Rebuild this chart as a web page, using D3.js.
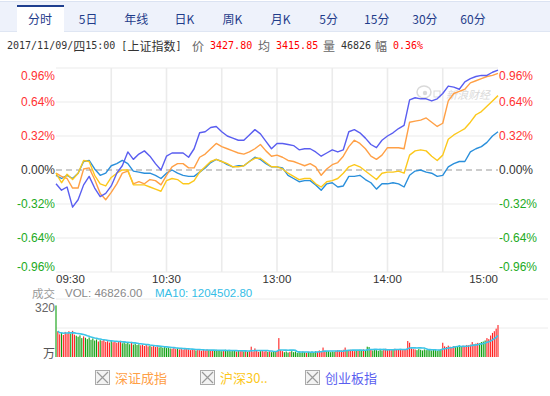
<!DOCTYPE html>
<html>
<head>
<meta charset="utf-8">
<script src="https://cdn.jsdelivr.net/npm/d3@7"></script>
<style>
  body { margin: 0; background: #fff; }
  svg { display: block; font-family: "Liberation Sans", Arial, sans-serif; }
  .cjk { font-family: "Noto Sans CJK SC", sans-serif; }
  .mono { font-family: "DejaVu Sans Mono", monospace; }
</style>
</head>
<body>
<div id="chart"></div>
<script>
//data
const tabLabels = ["分时", "5日", "年线", "日K", "周K", "月K", "5分", "15分", "30分", "60分"];
const pctTicks = [0.96, 0.64, 0.32, 0, -0.32, -0.64, -0.96];
const timeTicks = [0, 60, 120, 180, 240];
const timeLabels = ["09:30", "10:30", "13:00", "14:00", "15:00"];
const gridMinutes = [30, 60, 90, 120, 150, 180, 210];
const legendNames = ["深证成指", "沪深30..", "创业板指"];

// % change, one sample every 3 trading minutes (09:30 .. 15:00)
const shIndex = [
  -0.05, -0.08, -0.05, -0.08, -0.03, 0.08, 0.09, 0.01, -0.05, -0.03,
  0.04, 0.06, 0.09, 0.06, -0.01, -0.02, -0.03, -0.03, -0.05, -0.08,
  -0.03, 0.00, -0.03, -0.05, -0.06, -0.06, -0.02, 0.02, 0.07, 0.10,
  0.08, 0.05, 0.03, 0.04, 0.04, 0.08, 0.12, 0.10, 0.06, 0.03, 0.03,
  0.02, -0.05, -0.08, -0.11, -0.10, -0.10, -0.14, -0.19, -0.13, -0.12,
  -0.16, -0.15, -0.06, -0.06, -0.05, -0.09, -0.12, -0.18, -0.13, -0.13,
  -0.12, -0.13, -0.16, -0.05, -0.01, 0.00, -0.02, -0.03, -0.06, -0.05,
  0.03, 0.06, 0.08, 0.08, 0.17, 0.20, 0.22, 0.26, 0.32, 0.36
];
const szIndex = [
  -0.03, -0.06, -0.08, -0.17, -0.17, 0.01, 0.02, -0.09, -0.22, -0.28,
  -0.21, -0.13, -0.03, -0.01, -0.13, -0.11, -0.13, -0.09, -0.10, -0.14,
  -0.05, 0.03, 0.06, 0.06, 0.02, 0.02, 0.12, 0.15, 0.20, 0.25,
  0.22, 0.20, 0.18, 0.16, 0.15, 0.17, 0.20, 0.24, 0.18, 0.13, 0.14,
  0.12, 0.09, 0.08, 0.06, 0.04, 0.06, 0.03, -0.05, 0.01, 0.05,
  0.07, 0.13, 0.22, 0.28, 0.25, 0.20, 0.13, 0.10, 0.14, 0.21,
  0.21, 0.21, 0.20, 0.45, 0.46, 0.47, 0.49, 0.45, 0.41, 0.44,
  0.65, 0.72, 0.74, 0.76, 0.82, 0.84, 0.86, 0.88, 0.89, 0.91
];
const hs300 = [
  -0.03, -0.12, -0.04, -0.09, -0.03, 0.09, 0.08, -0.05, -0.13, -0.15,
  -0.07, -0.03, 0.00, 0.00, -0.14, -0.14, -0.14, -0.16, -0.18, -0.20,
  -0.10, -0.08, -0.09, -0.13, -0.13, -0.10, -0.02, 0.03, 0.08, 0.10,
  0.08, 0.06, 0.03, 0.03, 0.04, 0.08, 0.11, 0.11, 0.07, 0.03, 0.03,
  0.01, -0.03, -0.06, -0.09, -0.08, -0.08, -0.13, -0.16, -0.11, -0.10,
  -0.08, -0.03, 0.03, 0.05, 0.03, -0.01, -0.05, -0.09, -0.03, -0.02,
  -0.02, -0.01, -0.03, 0.14, 0.18, 0.19, 0.18, 0.13, 0.09, 0.14,
  0.29, 0.33, 0.36, 0.39, 0.45, 0.52, 0.55, 0.60, 0.65, 0.70
];
const cybIndex = [
  -0.13, -0.19, -0.16, -0.35, -0.28, -0.14, -0.06, -0.17, -0.25, -0.22,
  -0.15, -0.03, 0.04, 0.17, 0.10, 0.15, 0.18, 0.13, 0.06, 0.00,
  0.13, 0.16, 0.16, 0.16, 0.12, 0.20, 0.35, 0.36, 0.40, 0.41,
  0.36, 0.32, 0.30, 0.28, 0.28, 0.33, 0.38, 0.34, 0.27, 0.20, 0.25,
  0.25, 0.24, 0.23, 0.19, 0.20, 0.20, 0.17, 0.13, 0.16, 0.19,
  0.17, 0.19, 0.36, 0.38, 0.35, 0.30, 0.24, 0.21, 0.28, 0.32,
  0.35, 0.39, 0.42, 0.66, 0.68, 0.67, 0.67, 0.65, 0.67, 0.72,
  0.79, 0.78, 0.76, 0.83, 0.86, 0.88, 0.89, 0.89, 0.92, 0.94
];

// volume per minute (万), 241 bars
const volume = [
  300, 150, 132, 142, 128, 146, 138, 150, 136, 152, 130, 124, 118, 126, 110, 120, 112, 104, 114, 100,
  108, 96, 102, 90, 98, 94, 100, 88, 92, 84, 96, 86, 90, 82, 88, 94, 80, 86, 78, 82,
  74, 88, 72, 78, 70, 74, 68, 72, 64, 70, 62, 66, 60, 64, 58, 62, 56, 60, 54, 58,
  52, 56, 50, 48, 52, 46, 50, 44, 48, 42, 50, 46, 44, 40, 46, 42, 38, 44, 40, 36,
  42, 38, 44, 40, 36, 40, 38, 42, 36, 40, 34, 38, 42, 36, 40, 34, 38, 36, 32, 36,
  34, 38, 32, 36, 30, 34, 60, 32, 50, 36, 30, 34, 38, 32, 36, 30, 34, 28, 32, 30, 36,
  110, 40, 34, 28, 32, 26, 30, 34, 28, 32, 24, 30, 26, 32, 28, 24, 30, 26, 32, 28,
  34, 30, 38, 32, 55, 36, 30, 34, 28, 32, 30, 36, 40, 34, 38, 42, 55, 40, 36, 42,
  38, 34, 40, 36, 42, 38, 44, 40, 60, 58, 42, 38, 44, 40, 36, 42, 38, 44, 48, 42,
  46, 40, 44, 48, 42, 46, 44, 40, 46, 42, 93, 83, 50, 46, 44, 40, 46, 42, 38, 44,
  40, 46, 42, 38, 44, 40, 36, 42, 46, 83, 62, 58, 66, 60, 56, 64, 58, 62, 68, 60,
  66, 64, 70, 68, 72, 87, 74, 78, 82, 80, 87, 90, 96, 110, 104, 125, 140, 150, 165, 186
];
// r = up minute, g = down minute
const volDir = [
  "g", "rrgrrrrgrr", "ggggrgggggggrg", "rrrrrgrrrrr", "gggggrgggg", "rrrrrgrrrr",
  "ggggggg", "rrrgrrrrr", "rrrrgrrrrrrgrr", "gggggrggggg", "grgrrgrgr", "rrrrrgrrr", "grgggr",
  "rrr", "gggrggggggggrggggg", "rrrrr", "ggggg", "rrrrrrgrrrr", "grggrgggr", "gggggg",
  "rrrrrgrrrrrrrr", "rrrr", "gggggggggggggg", "rrrrrrr", "gggg", "rrrrrrrrr", "gggg", "rrrrrrr"
].join("");

//size
const width = 550, height = 396;
const left = 56, right = 498;

//scale
const xScale = d3.scaleLinear().domain([0, 240]).range([left, right]);
const yScale = d3.scaleLinear().domain([-0.96, 0.96]).range([272, 68]);
const volScale = d3.scaleLinear().domain([0, 320]).range([357, 302]);
const tabScale = d3.scalePoint().domain(tabLabels).range([40, 473]);
const legendScale = d3.scalePoint().domain(legendNames).range([95, 305]);

const svg = d3.select("#chart").append("svg")
  .attr("width", width).attr("height", height);

//tabs
svg.append("rect").attr("x", 0).attr("y", 1).attr("width", width).attr("height", 30)
  .attr("fill", "#eef2fb");
svg.append("line").attr("x1", 0).attr("x2", width).attr("y1", 1.5).attr("y2", 1.5)
  .attr("stroke", "#dbe3f2");
svg.append("line").attr("x1", 0).attr("x2", width).attr("y1", 31.5).attr("y2", 31.5)
  .attr("stroke", "#dfe6f3");
svg.append("rect").attr("x", 17).attr("y", 5).attr("width", 47).attr("height", 27)
  .attr("fill", "#fff");
svg.append("line").attr("x1", 17).attr("x2", 64).attr("y1", 6).attr("y2", 6)
  .attr("stroke", "#1f3f8f").attr("stroke-width", 2);
svg.append("g").selectAll("text").data(tabLabels).join("text")
  .attr("class", "cjk")
  .attr("x", (d) => tabScale(d)).attr("y", 18)
  .attr("text-anchor", "middle").attr("dominant-baseline", "central")
  .attr("font-size", 12).attr("fill", "#1f3c8a")
  .text((d) => d);

//info line
function richText(x, parts) {
  const t = svg.append("text").attr("x", x).attr("y", 45).attr("dominant-baseline", "central");
  parts.forEach(([s, color]) => {
    const cjk = /[^\x00-\x7f]/.test(s);
    t.append("tspan")
      .attr("class", cjk ? "cjk" : "mono")
      .attr("font-size", cjk ? 12 : 10)
      .attr("fill", color)
      .text(s);
  });
}
richText(7, [["2017/11/09/", "#333"], ["四", "#333"], ["15:00 [", "#333"], ["上证指数", "#333"], ["]", "#333"]]);
richText(192, [["价", "#666"], [" 3427.80", "#f00"]]);
richText(258, [["均", "#666"], [" 3415.85", "#f00"]]);
richText(323, [["量", "#666"], [" 46826", "#333"]]);
richText(375, [["幅", "#666"], [" 0.36%", "#f00"]]);

//grid
const grid = svg.append("g");
grid.selectAll("line.h").data(pctTicks.filter((d) => d !== 0)).join("line")
  .attr("class", "h")
  .attr("x1", left).attr("x2", right)
  .attr("y1", (d) => yScale(d)).attr("y2", (d) => yScale(d))
  .attr("stroke", "#ebebeb").attr("stroke-width", 1.2);
grid.selectAll("line.v").data(gridMinutes).join("line")
  .attr("class", "v")
  .attr("x1", (d) => xScale(d)).attr("x2", (d) => xScale(d))
  .attr("y1", yScale(0.96)).attr("y2", yScale(-0.96))
  .attr("stroke", "#ebebeb").attr("stroke-width", 1.6);
grid.append("line")
  .attr("x1", left).attr("x2", right)
  .attr("y1", yScale(0)).attr("y2", yScale(0))
  .attr("stroke", "#999").attr("stroke-dasharray", "6,4");

//watermark
const wm = svg.append("g").attr("opacity", 0.55);
wm.append("ellipse").attr("cx", 424).attr("cy", 92).attr("rx", 7).attr("ry", 6)
  .attr("fill", "none").attr("stroke", "#bbb").attr("stroke-width", 1.5);
wm.append("circle").attr("cx", 425).attr("cy", 93).attr("r", 2.2).attr("fill", "#bbb");
wm.append("rect").attr("x", 434).attr("y", 91).attr("width", 6).attr("height", 6)
  .attr("fill", "none").attr("stroke", "#bbb");
wm.append("text").attr("class", "cjk")
  .attr("x", 446).attr("y", 94).attr("dominant-baseline", "central")
  .attr("font-size", 11).attr("font-style", "italic").attr("fill", "#bbb")
  .text("新浪财经");

//lines
const line = d3.line()
  .x((d, i) => xScale(i * 3))
  .y((d) => yScale(d));
const series = [
  { values: shIndex, color: "#2a8fdb" },
  { values: szIndex, color: "#ffa046" },
  { values: hs300, color: "#fcc81c" },
  { values: cybIndex, color: "#5a5ef0" }
];
svg.append("g").selectAll("path").data(series).join("path")
  .attr("d", (d) => line(d.values))
  .attr("fill", "none")
  .attr("stroke", (d) => d.color)
  .attr("stroke-width", 1.4)
  .attr("stroke-linejoin", "round");

//y labels
const labelY = (v) => Math.min(Math.max(yScale(v), 76), 267);
const labelColor = (v) => (v > 0 ? "#f33" : v < 0 ? "#22aa22" : "#333");
const fmt = (v) => v.toFixed(2) + "%";
[{ x: 55, anchor: "end" }, { x: 499, anchor: "start" }].forEach((side) => {
  svg.append("g").selectAll("text").data(pctTicks).join("text")
    .attr("x", side.x).attr("y", labelY)
    .attr("text-anchor", side.anchor).attr("dominant-baseline", "central")
    .attr("font-size", 12).attr("fill", labelColor)
    .text(fmt);
});

//time labels
svg.append("g").selectAll("text").data(timeTicks).join("text")
  .attr("x", (d) => xScale(d)).attr("y", 279)
  .attr("text-anchor", (d, i) => (i === 0 ? "start" : i === timeTicks.length - 1 ? "end" : "middle"))
  .attr("dominant-baseline", "central")
  .attr("font-size", 11.5).attr("fill", "#333")
  .text((d, i) => timeLabels[i]);

//volume header
svg.append("text").attr("class", "cjk").attr("x", 32).attr("y", 293)
  .attr("dominant-baseline", "central").attr("font-size", 11.5).attr("fill", "#999").text("成交");
svg.append("text").attr("x", 65).attr("y", 293)
  .attr("dominant-baseline", "central").attr("font-size", 11.5).attr("fill", "#888").text("VOL: 46826.00");
svg.append("text").attr("x", 155).attr("y", 293)
  .attr("dominant-baseline", "central").attr("font-size", 11.5).attr("fill", "#35bde6").text("MA10: 1204502.80");

//volume grid
svg.append("g").selectAll("line").data([0.5, 1]).join("line")
  .attr("x1", left).attr("x2", 548)
  .attr("y1", (d) => 357 - (357 - 299) * d).attr("y2", (d) => 357 - (357 - 299) * d)
  .attr("stroke", "#ececec");
svg.append("text").attr("x", 55).attr("y", 308).attr("text-anchor", "end")
  .attr("dominant-baseline", "central").attr("font-size", 12).attr("fill", "#666").text("320");
svg.append("text").attr("class", "cjk").attr("x", 55).attr("y", 352).attr("text-anchor", "end")
  .attr("dominant-baseline", "central").attr("font-size", 12).attr("fill", "#555").text("万");

//volume bars
svg.append("g").selectAll("rect").data(volume).join("rect")
  .attr("x", (d, i) => xScale(i) - 0.55)
  .attr("y", (d) => volScale(d))
  .attr("width", 1.1)
  .attr("height", (d) => volScale(0) - volScale(d))
  .attr("fill", (d, i) => (volDir[i] === "r" ? "#ff1f1f" : "#0f9f0f"));

//MA10
const ma10 = volume.map((d, i) => (i === 0 ? null : d3.mean(volume.slice(Math.max(1, i - 9), i + 1))));
svg.append("path")
  .attr("d", d3.line()
    .defined((d) => d !== null)
    .x((d, i) => xScale(i))
    .y((d) => volScale(d))(ma10))
  .attr("fill", "none").attr("stroke", "#3cc4e8").attr("stroke-width", 1.6);

//legend
const legend = svg.append("g").selectAll("g").data(legendNames).join("g")
  .attr("transform", (d) => `translate(${legendScale(d)},370)`);
legend.append("rect").attr("x", 0.5).attr("y", 0.5).attr("width", 14).attr("height", 14)
  .attr("fill", "#f3f3f3").attr("stroke", "#aaa");
legend.append("path").attr("d", "M2,2L13,13M13,2L2,13")
  .attr("stroke", "#999").attr("stroke-width", 1.2);
legend.append("text").attr("class", "cjk")
  .attr("x", 20).attr("y", 7.5).attr("dominant-baseline", "central")
  .attr("font-size", 13)
  .attr("fill", (d, i) => series[i + 1].color)
  .text((d) => d);
</script>
</body>
</html>
